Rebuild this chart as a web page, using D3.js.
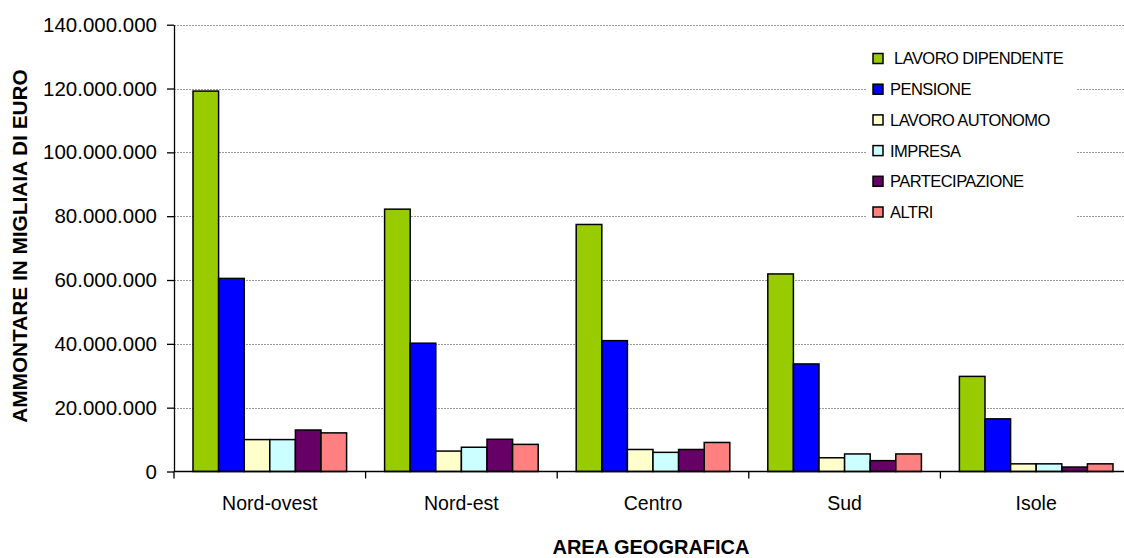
<!DOCTYPE html>
<html>
<head>
<meta charset="utf-8">
<script src="https://cdn.jsdelivr.net/npm/d3@7"></script>
<style>
  html, body { margin: 0; padding: 0; background: #fff; }
  svg { display: block; font-family: "Liberation Sans", Arial, sans-serif; }
</style>
</head>
<body>
<svg id="chart" width="1124" height="558"></svg>
<script>
// Areas along the x axis
const areas = ["Nord-ovest", "Nord-est", "Centro", "Sud", "Isole"];

// Income types (series), in legend order
const seriesNames = [" LAVORO DIPENDENTE", "PENSIONE", "LAVORO AUTONOMO", "IMPRESA", "PARTECIPAZIONE", "ALTRI"];
const seriesColors = ["#99CC00", "#0000FF", "#FFFFCC", "#CCFFFF", "#660066", "#FF8080"];

// Amounts in thousands of euro, one value per area
const lavoroDipendente = [119200000, 82200000, 77400000, 61900000, 29800000];
const pensione         = [60500000, 40200000, 41000000, 33700000, 16500000];
const lavoroAutonomo   = [10000000, 6400000, 6900000, 4300000, 2400000];
const impresa          = [10000000, 7600000, 6000000, 5500000, 2400000];
const partecipazione   = [13000000, 10100000, 6900000, 3400000, 1400000];
const altri            = [12100000, 8500000, 9100000, 5500000, 2400000];

const seriesValues = [lavoroDipendente, pensione, lavoroAutonomo, impresa, partecipazione, altri];

// Y axis tick values
const yTicks = [0, 20000000, 40000000, 60000000, 80000000, 100000000, 120000000, 140000000];

const svg = d3.select("#chart");

const plot = { left: 174, right: 1132, top: 24.7, bottom: 471.5 };

const x0 = d3.scaleBand()
  .domain(areas)
  .range([plot.left, plot.right])
  .paddingInner(0)
  .paddingOuter(0);

const x1 = d3.scaleBand()
  .domain(d3.range(seriesNames.length))
  .range([0, x0.bandwidth()])
  .paddingInner(0)
  .paddingOuter(0.742);

const y = d3.scaleLinear()
  .domain([0, 140000000])
  .range([plot.bottom, plot.top]);

const it = d3.formatLocale({ decimal: ",", thousands: ".", grouping: [3], currency: ["€", ""] });
const fmt = it.format(",d");

// Horizontal gridlines
svg.append("g")
  .selectAll("line")
  .data(yTicks.filter(d => d > 0))
  .join("line")
  .attr("x1", plot.left)
  .attr("x2", plot.right)
  .attr("y1", d => Math.round(y(d)) + 0.5)
  .attr("y2", d => Math.round(y(d)) + 0.5)
  .attr("stroke", "#9a9a9a")
  .attr("stroke-width", 1)
  .attr("stroke-dasharray", "2,1");

// Bars
const groups = svg.append("g")
  .selectAll("g")
  .data(areas)
  .join("g")
  .attr("transform", d => `translate(${x0(d)},0)`);

groups.selectAll("rect")
  .data((area, i) => seriesValues.map((vals, s) => ({ s, v: vals[i] })))
  .join("rect")
  .attr("x", d => x1(d.s))
  .attr("y", d => y(d.v))
  .attr("width", x1.bandwidth())
  .attr("height", d => y(0) - y(d.v))
  .attr("fill", d => seriesColors[d.s])
  .attr("stroke", "#000")
  .attr("stroke-width", 1.5);

// Y axis
const yAxis = svg.append("g")
  .attr("transform", `translate(${plot.left},0)`)
  .call(d3.axisLeft(y).tickValues(yTicks).tickFormat(fmt).tickSize(7).tickSizeOuter(0).tickPadding(10));
yAxis.select(".domain").attr("stroke", "#000").attr("stroke-width", 1.3);
yAxis.selectAll(".tick line").attr("stroke", "#000").attr("stroke-width", 1.3);
yAxis.selectAll(".tick text")
  .attr("font-size", 20.5)
  .attr("font-family", "Liberation Sans, Arial, sans-serif")
  .attr("fill", "#000");

// X axis: ticks at the category boundaries
const xAxisG = svg.append("g");
xAxisG.append("line")
  .attr("x1", plot.left).attr("x2", plot.right)
  .attr("y1", plot.bottom).attr("y2", plot.bottom)
  .attr("stroke", "#000").attr("stroke-width", 1.3);
const boundaries = areas.map(a => x0(a)).concat([x0(areas[areas.length - 1]) + x0.bandwidth()]);
xAxisG.selectAll("line.tk")
  .data(boundaries)
  .join("line")
  .attr("class", "tk")
  .attr("x1", d => d).attr("x2", d => d)
  .attr("y1", plot.bottom).attr("y2", plot.bottom + 7)
  .attr("stroke", "#000").attr("stroke-width", 1.3);
xAxisG.selectAll("text")
  .data(areas)
  .join("text")
  .attr("x", d => x0(d) + x0.bandwidth() / 2)
  .attr("y", 510)
  .attr("text-anchor", "middle")
  .attr("font-size", 19.5)
  .attr("fill", "#000")
  .text(d => d);

// Axis titles
svg.append("text")
  .attr("x", 651)
  .attr("y", 553.5)
  .attr("text-anchor", "middle")
  .attr("font-size", 20)
  .attr("font-weight", "bold")
  .text("AREA GEOGRAFICA");

svg.append("text")
  .attr("transform", "translate(27,246) rotate(-90)")
  .attr("text-anchor", "middle")
  .attr("font-size", 20.8)
  .attr("font-weight", "bold")
  .text("AMMONTARE IN MIGLIAIA DI EURO");

// Legend
const legend = svg.append("g");
legend.append("rect")
  .attr("x", 866).attr("y", 40)
  .attr("width", 210).attr("height", 188)
  .attr("fill", "#fff");

const rowY = d3.scalePoint().domain(d3.range(seriesNames.length)).range([58.5, 212]);
const items = legend.selectAll("g.item")
  .data(seriesNames)
  .join("g")
  .attr("class", "item")
  .attr("transform", (d, i) => `translate(0,${rowY(i)})`);
items.append("rect")
  .attr("x", 873).attr("y", -5)
  .attr("width", 10).attr("height", 10)
  .attr("fill", (d, i) => seriesColors[i])
  .attr("stroke", "#000")
  .attr("stroke-width", 1.5);
items.append("text")
  .attr("x", 890)
  .attr("y", 0)
  .attr("dy", "0.36em")
  .attr("font-size", 16.5)
  .attr("letter-spacing", "-0.55px")
  .style("white-space", "pre")
  .attr("fill", "#000")
  .text(d => d);
</script>
</body>
</html>
